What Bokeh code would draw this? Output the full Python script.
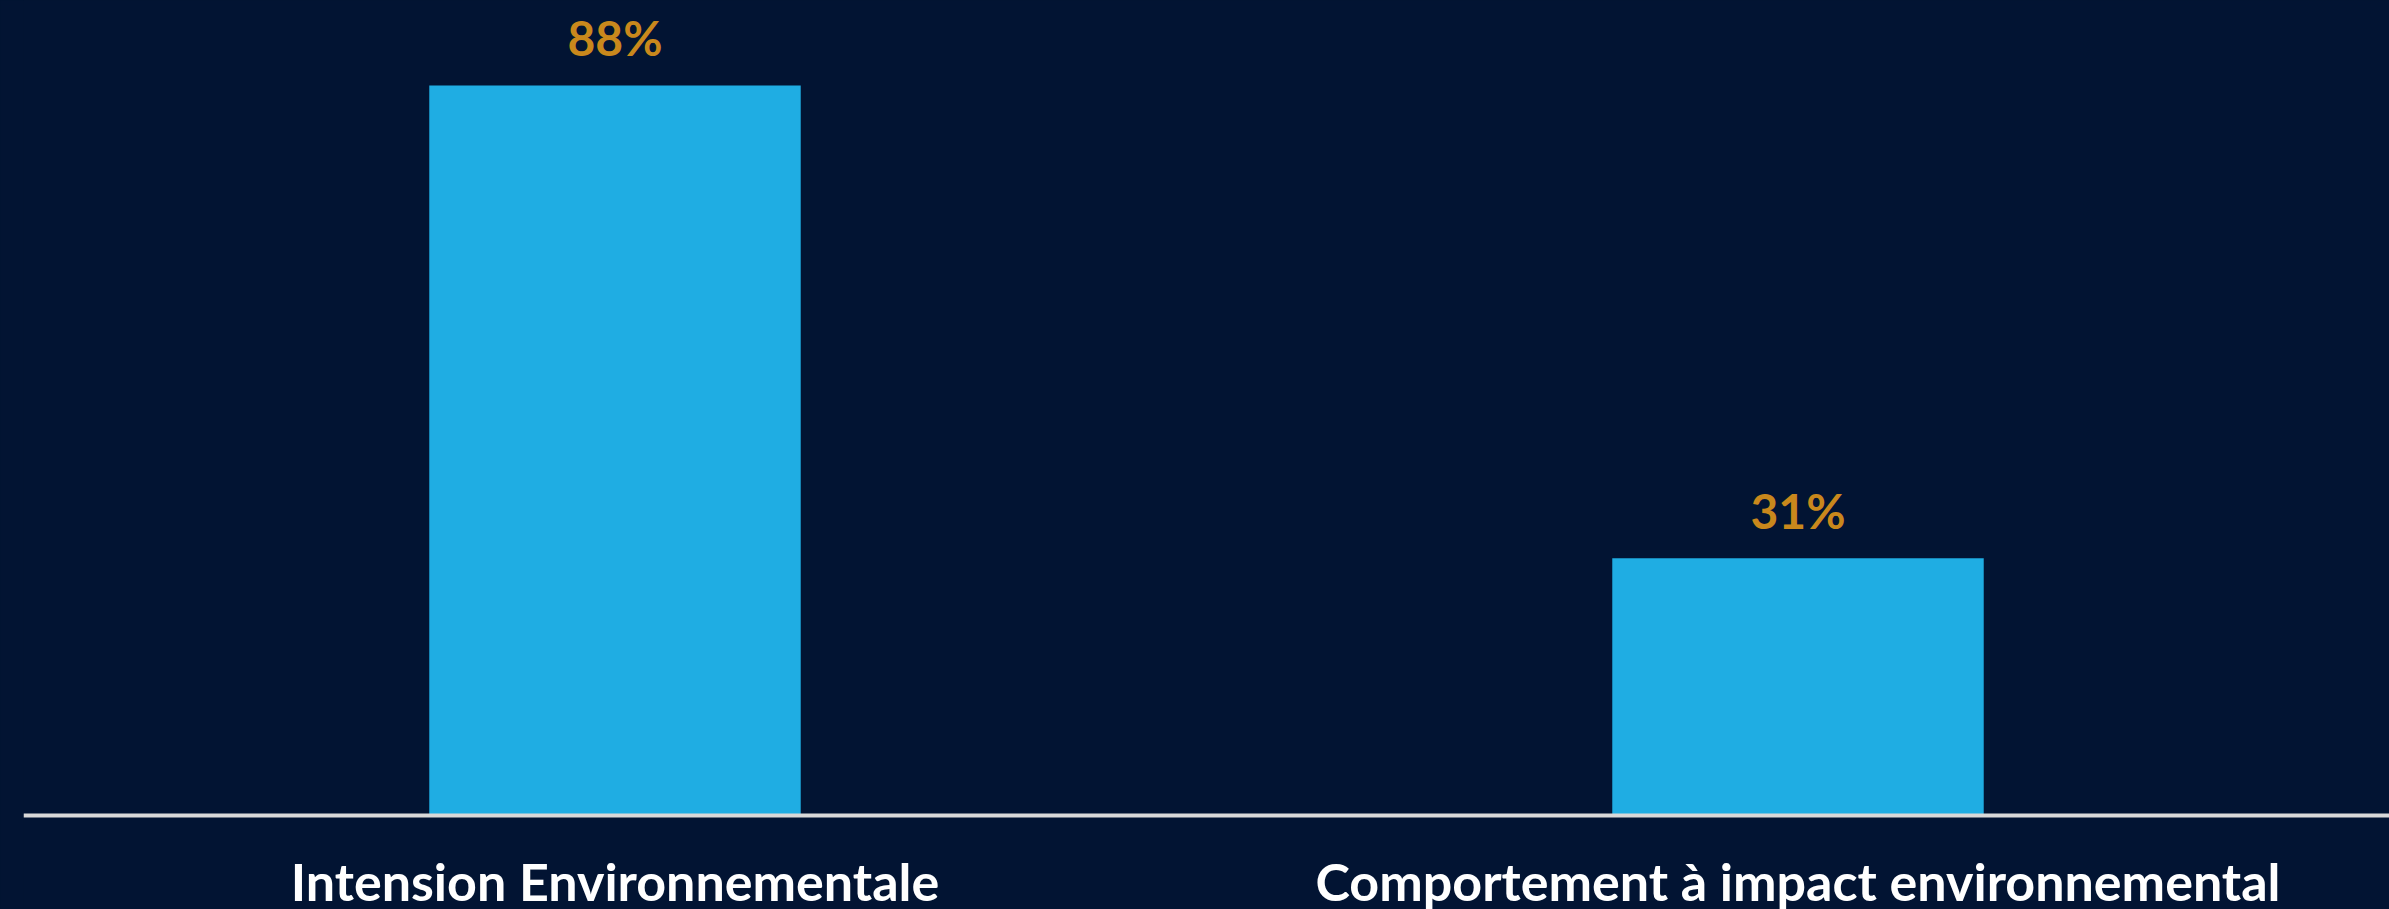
from bokeh.plotting import figure
from bokeh.models import Range1d, FactorRange, ColumnDataSource, Span
from bokeh.core.properties import value
from bokeh.embed import file_html
from bokeh.resources import INLINE

categories = ["Intension Environnementale", "Comportement à impact environnemental"]
values = [88, 31]
labels = ["88%", "31%"]

BG = "#021433"
src = ColumnDataSource(dict(cat=categories, val=values, lab=labels, base=[0] * len(values)))

p = figure(width=2389, height=909, x_range=FactorRange(*categories),
           y_range=Range1d(-11.33, 98.25), output_backend="svg", toolbar_location=None,
           min_border_left=23, min_border_right=0, min_border_top=0, min_border_bottom=0,
           background_fill_color=BG, border_fill_color=BG)
p.outline_line_color = None
p.grid.visible = False
p.xaxis.visible = False
p.yaxis.visible = False

p.vbar(x="cat", top="val", bottom=0, width=0.314, source=src, fill_color="#1FADE3", line_color=None)
p.add_layout(Span(location=0, dimension="width", line_color="#D9D9D9", line_width=4))

p.text(x="cat", y="val", text="lab", source=src, text_align="center", text_baseline="alphabetic",
       y_offset=-48, text_color="#C9881C", text_font=value("Lato"), text_font_style="bold",
       text_font_size="48px")
p.text(x="cat", y="base", text="cat", source=src, text_align="center", text_baseline="alphabetic",
       y_offset=65, text_color="white", text_font=value("Lato"), text_font_style="bold",
       text_font_size="52px")

html = file_html(p, INLINE)
html = html.replace("</head>", "<style>html, body { background-color: %s; }</style></head>" % BG, 1)
open("out.html", "w").write(html)
